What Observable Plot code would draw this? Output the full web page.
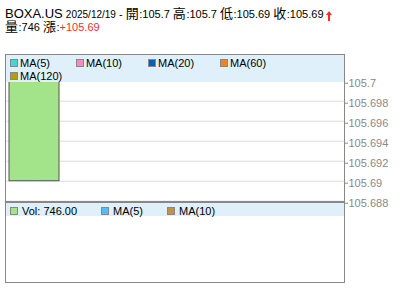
<!DOCTYPE html>
<html>
<head>
<meta charset="utf-8">
<script src="https://cdn.jsdelivr.net/npm/d3@7"></script>
<script src="https://cdn.jsdelivr.net/npm/@observablehq/plot@0.6"></script>
<style>
  html, body { margin: 0; padding: 0; background: #fff; }
  #wrap { position: relative; width: 400px; height: 301px; overflow: hidden; font-family: "Liberation Sans", Arial, sans-serif; color: #000; }
  #wrap > svg { position: absolute; left: 0; }
  .hdr { position: absolute; left: 5px; white-space: nowrap; font-size: 11px; line-height: 12px; height: 12px; }
  .cj { display: inline-block; font-family: "Noto Sans CJK TC", "Noto Sans CJK SC", sans-serif; font-size: 13px; line-height: 12px; height: 12px; overflow: visible; margin-right: 0.5px; }
  .red { color: #f03030; }
  .arrow { display: inline-block; vertical-align: -3px; margin-left: 2px; }
  .band { position: absolute; left: 6px; width: 338px; background: #dff0fa; }
  .leg { position: absolute; left: 10px; font-size: 11px; line-height: 13px; white-space: normal; }
  .item { display: inline-block; white-space: nowrap; }
  .sq { display: inline-block; width: 6px; height: 6px; border: 1px solid #888; vertical-align: 0px; }
</style>
</head>
<body>
<div id="wrap"></div>
<script>
// ---- data ----
const ticker = "BOXA.US";
const dates = ["2025/12/19"];
const opens = [105.7];
const highs = [105.7];
const lows = [105.69];
const closes = [105.69];
const volumes = [746];
const changes = [105.69];
const yTicks = [105.688, 105.69, 105.692, 105.694, 105.696, 105.698, 105.7];
const priceMaNames = ["MA(5)", "MA(10)", "MA(20)", "MA(60)", "MA(120)"];
const priceMaColors = ["#40d8d0", "#f090b8", "#0062b4", "#f58220", "#b0a000"];
const volNames = ["Vol: " + volumes[0].toFixed(2), "MA(5)", "MA(10)"];
const volColors = ["#a3e48a", "#50c0f0", "#c09050"];

const slotCount = 6;
const candles = dates.map((d, i) => ({slot: i, date: d, open: opens[i], high: highs[i], low: lows[i], close: closes[i], volume: volumes[i]}));

const wrap = document.getElementById("wrap");
const font = {fontFamily: "'Liberation Sans', Arial, sans-serif", fontSize: "11px", background: "transparent", color: "#888", overflow: "visible"};

// ---- main price panel ----
const main = Plot.plot({
  width: 400, height: 301,
  marginLeft: 5, marginRight: 56, marginTop: 54, marginBottom: 100,
  style: font,
  x: {type: "band", domain: d3.range(slotCount), paddingInner: 0.1, paddingOuter: 0.05, axis: null},
  y: {domain: [105.68797, 105.70267], axis: null},
  marks: [
    Plot.gridY(yTicks, {stroke: "#ddd", strokeOpacity: 1}),
    Plot.ruleX(candles, {x: "slot", y1: "low", y2: "high", stroke: "#555"}),
    Plot.barY(candles, {x: "slot", y1: "open", y2: "close", fill: "#a3e48a", stroke: "#555"}),
    Plot.axisY(yTicks, {anchor: "right", tickSize: 3, tickPadding: 1, dy: 2, tickFormat: d => String(+d.toFixed(3)), label: null}),
    Plot.frame({stroke: "#888"})
  ]
});
main.style.top = "0px";
wrap.appendChild(main);

// ---- volume panel ----
const vol = Plot.plot({
  width: 400, height: 81,
  marginLeft: 5, marginRight: 56, marginTop: 0, marginBottom: 1,
  style: font,
  x: {type: "band", domain: d3.range(slotCount), paddingInner: 0.1, paddingOuter: 0.05, axis: null},
  y: {domain: [0, d3.max(volumes) * 1e6], axis: null},
  marks: [
    Plot.frame({stroke: "#888"})
  ]
});
vol.style.top = "202px";
wrap.appendChild(vol);

// ---- header ----
const cj = s => `<span class="cj">${s}</span>`;
const arrowSvg = `<svg class="arrow" width="6" height="10" viewBox="0 0 6 10"><path d="M3 0 L6 4 L4 4 L4 10 L2 10 L2 4 L0 4 Z" fill="#f03030"/></svg>`;
const h1 = document.createElement("div");
h1.className = "hdr";
h1.style.top = "7px";
h1.innerHTML = `<span style="font-size:13px">${ticker}</span> <span style="font-size:10px">${dates[0]}</span> - ${cj("開")}:${opens[0]} ${cj("高")}:${highs[0]} ${cj("低")}:${lows[0]} ${cj("收")}:${closes[0]}${arrowSvg}`;
wrap.appendChild(h1);
const h2 = document.createElement("div");
h2.className = "hdr";
h2.style.top = "20px";
h2.innerHTML = `${cj("量")}:${volumes[0]} ${cj("漲")}:<span class="red">+${changes[0]}</span>`;
wrap.appendChild(h2);

// ---- legends ----
function legend(top, height, names, colors, gap, margin, legTop, width) {
  const b = document.createElement("div");
  b.className = "band";
  b.style.top = top + "px";
  b.style.height = height + "px";
  wrap.appendChild(b);
  const l = document.createElement("div");
  l.className = "leg";
  l.style.top = legTop + "px";
  l.style.width = width + "px";
  l.innerHTML = names.map((n, i) =>
    `<span class="item" style="margin-right:${margin}px"><span class="sq" style="background:${colors[i]};margin-right:${gap}px"></span>${n}</span>`
  ).join("");
  wrap.appendChild(l);
}
legend(55, 27, priceMaNames, priceMaColors, 2, 26, 56.5, 320);
legend(203, 13, volNames, volColors, 4, 24, 204.5, 320);
</script>
</body>
</html>
